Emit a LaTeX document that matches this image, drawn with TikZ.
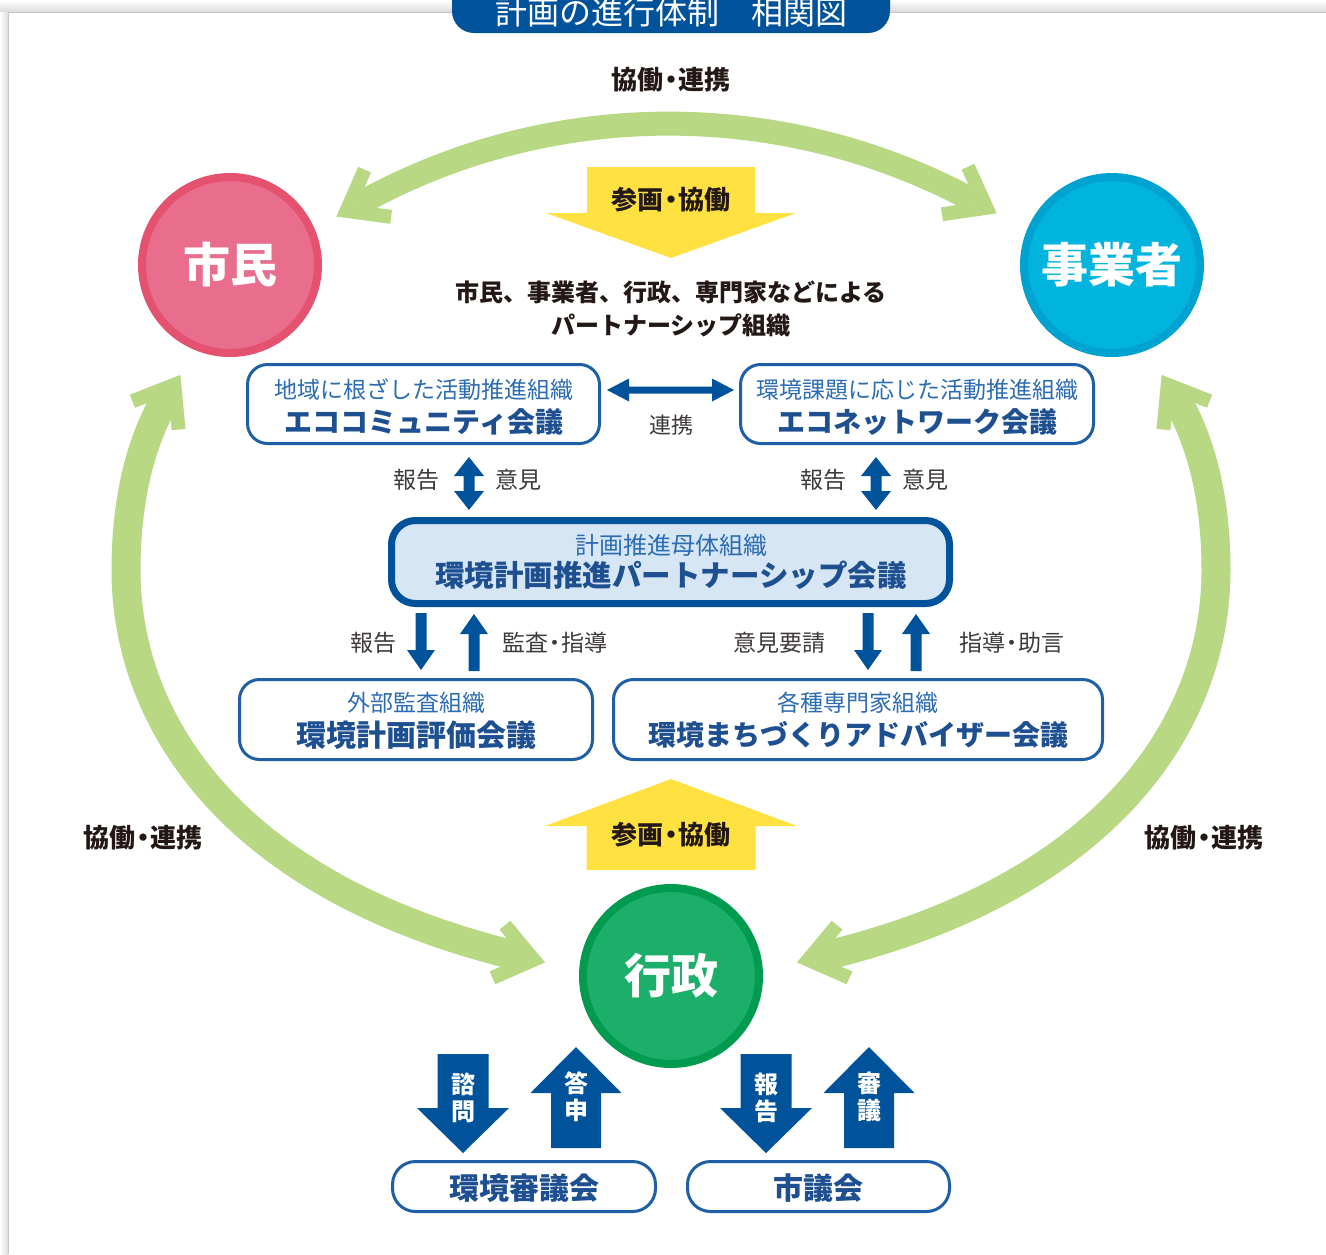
\documentclass[tikz,border=0pt]{standalone}
\usepackage{fontspec}
\setmainfont{Noto Sans CJK JP}
\usetikzlibrary{calc}
\definecolor{dblue}{HTML}{00529B}
\definecolor{boxline}{HTML}{1F5FA6}
\definecolor{subblue}{HTML}{2B6CB3}
\definecolor{boldblue}{HTML}{1D4F91}
\definecolor{lblgray}{HTML}{3E3A39}
\definecolor{darktxt}{HTML}{231815}
\definecolor{arcgreen}{HTML}{B8D883}
\definecolor{yel}{HTML}{FFE141}
\definecolor{pinkin}{HTML}{E96D8D}
\definecolor{pinkring}{HTML}{E4526F}
\definecolor{cyanin}{HTML}{00B4DE}
\definecolor{cyanring}{HTML}{00A2CF}
\definecolor{greenin}{HTML}{1BAF6A}
\definecolor{greenring}{HTML}{009B4F}
\definecolor{ptnfill}{HTML}{D6E6F5}
\newcommand\mydot{\kern-0.2em・\kern-0.2em}
\newcommand\singlearrow[6]{%
  \coordinate (hb) at ($(#2)!#5!(#1)$);
  \fill[#6] ($(#1)!#3!90:(#2)$) -- ($(hb)!#3!90:(#2)$) -- ($(hb)!#4!90:(#2)$) -- (#2)
    -- ($(hb)!#4!-90:(#2)$) -- ($(hb)!#3!-90:(#2)$) -- ($(#1)!#3!-90:(#2)$) -- cycle;}
\newcommand\doublearrow[6]{%
  \coordinate (ha) at ($(#1)!#5!(#2)$);
  \coordinate (hb) at ($(#2)!#5!(#1)$);
  \fill[#6] (#1) -- ($(ha)!#4!90:(#2)$) -- ($(ha)!#3!90:(#2)$) -- ($(hb)!#3!-90:(#1)$)
    -- ($(hb)!#4!-90:(#1)$) -- (#2) -- ($(hb)!#4!90:(#1)$) -- ($(hb)!#3!90:(#1)$)
    -- ($(ha)!#3!-90:(#2)$) -- ($(ha)!#4!-90:(#2)$) -- cycle;}
\newcommand\chevron[2]{%
  \coordinate (cc) at ($(#1)!-12pt!(#2)$);
  \draw[chev] ($(cc)!45pt!37:(#2)$) -- (cc) -- ($(cc)!45pt!-37:(#2)$);}
\begin{document}
\begin{tikzpicture}[x=1pt,y=-1pt,
  chev/.style={draw=arcgreen, line width=14pt, line cap=butt, line join=miter},
  arcline/.style={draw=arcgreen, line cap=butt},
  roundbox/.style={draw=boxline, line width=3pt, rounded corners=20pt, fill=white, inner sep=0},
  subtxt/.style={inner sep=0, text=subblue, font=\fontsize{23}{23}\selectfont},
  maintxt/.style={inner sep=0, text=boldblue, font=\fontsize{#1}{#1}\selectfont\bfseries},
  lbl/.style={inner sep=0, text=lblgray, font=\fontsize{23}{23}\selectfont},
  darklbl/.style={inner sep=0, text=darktxt, font=\fontsize{#1}{#1}\selectfont\bfseries},
  actor/.style={circle, inner sep=0, minimum size=176pt, line width=8pt, text=white,
    font=\fontsize{47}{47}\selectfont\bfseries},
  vlbl/.style={inner sep=0, text=white, align=center, font=\fontsize{24}{27}\selectfont\bfseries}
]
\useasboundingbox (0,0) rectangle (1326,1254);
% background panel
\shade[top color=white, bottom color=black!14] (0,0) rectangle (1326,12);
\shade[left color=white, right color=black!14] (0,12) rectangle (8,1254);
\fill[white] (8,12) rectangle (1326,1254);
\draw[black!22, line width=1pt] (8,1254) -- (8,12) -- (1326,12);
% title tab
\fill[dblue, rounded corners=22pt] (452,-30) rectangle (890,33);
\node[inner sep=0, text=white, font=\fontsize{32}{32}\selectfont] (title) at (671,12) {計画の進行体制　相関図};

% green arcs
\coordinate (T0) at (357,205); \coordinate (T1) at (549,97);
\coordinate (T2) at (784,97);  \coordinate (T3) at (976,202);
\coordinate (L0) at (168,395); \coordinate (La) at (136.7,446);
\coordinate (Lb) at (126,510); \coordinate (LM) at (126,570);
\coordinate (Lc) at (126,720); \coordinate (L2) at (230,888);
\coordinate (L3) at (522,957);
\coordinate (R0) at (1174,395); \coordinate (Ra) at (1205.3,446);
\coordinate (Rb) at (1216,510); \coordinate (RM) at (1216,570);
\coordinate (Rc) at (1216,720); \coordinate (R2) at (1112,888);
\coordinate (R3) at (820,957);
\draw[arcline, line width=24pt] (T0) .. controls (T1) and (T2) .. (T3);
\draw[arcline, line width=29pt] (L0) .. controls (La) and (Lb) .. (LM) .. controls (Lc) and (L2) .. (L3);
\draw[arcline, line width=29pt] (R0) .. controls (Ra) and (Rb) .. (RM) .. controls (Rc) and (R2) .. (R3);
\chevron{T0}{T1}\chevron{T3}{T2}
\chevron{L0}{La}\chevron{L3}{L2}
\chevron{R0}{Ra}\chevron{R3}{R2}
\node[darklbl=26] (kyo1) at (671,80) {協働\mydot 連携};
\node[darklbl=26] (kyo2) at (143,838) {協働\mydot 連携};
\node[darklbl=26] (kyo3) at (1204,838) {協働\mydot 連携};

% actors
\node[actor, fill=pinkin, draw=pinkring] (shimin) at (230,265) {市民};
\node[actor, fill=cyanin, draw=cyanring] (jigyo) at (1112,265) {事業者};
\node[actor, fill=greenin, draw=greenring] (gyosei) at (671,976) {行政};

% yellow arrows
\coordinate (y1a) at (671,167); \coordinate (y1b) at (671,258);
\singlearrow{y1a}{y1b}{84pt}{125pt}{45pt}{yel}
\node[darklbl=26] (sank1) at (671,200) {参画\mydot 協働};
\coordinate (y2a) at (671,870); \coordinate (y2b) at (671,779);
\singlearrow{y2a}{y2b}{84.5pt}{126pt}{47pt}{yel}
\node[darklbl=26] (sank2) at (671,835) {参画\mydot 協働};

\node[darklbl=24] (pt1) at (671,292) {市民、事業者、行政、専門家などによる};
\node[darklbl=24] (pt2) at (671,325) {パートナーシップ組織};

% upper boxes
\node[roundbox, minimum width=352pt, minimum height=79pt] (ecoc) at (423.5,404) {};
\node[subtxt] (ecoc1) at (424,390) {地域に根ざした活動推進組織};
\node[maintxt=28] (ecoc2) at (424,422) {エココミュニティ会議};
\node[roundbox, minimum width=353pt, minimum height=79pt] (econ) at (917,404) {};
\node[subtxt] (econ1) at (917,390) {環境課題に応じた活動推進組織};
\node[maintxt=28] (econ2) at (917,422) {エコネットワーク会議};
\coordinate (rka) at (607,390); \coordinate (rkb) at (734,390);
\doublearrow{rka}{rkb}{3.5pt}{11.5pt}{22pt}{dblue}
\node[lbl, font=\fontsize{22}{22}\selectfont] (renkei) at (671,425) {連携};

% vertical double arrows
\coordinate (v1a) at (469,457); \coordinate (v1b) at (469,510);
\doublearrow{v1a}{v1b}{5.5pt}{15pt}{19pt}{dblue}
\coordinate (v2a) at (876,457); \coordinate (v2b) at (876,510);
\doublearrow{v2a}{v2b}{5.5pt}{15pt}{19pt}{dblue}
\node[lbl] (l1) at (416,480) {報告};
\node[lbl] (l2) at (518,480) {意見};
\node[lbl] (l3) at (823,480) {報告};
\node[lbl] (l4) at (925,480) {意見};

% partnership box
\node[draw=dblue, line width=7pt, fill=ptnfill, rounded corners=24pt, inner sep=0,
  minimum width=558pt, minimum height=83pt] (ptn) at (670.5,562) {};
\node[subtxt, font=\fontsize{24}{24}\selectfont] (ptn1) at (671,545) {計画推進母体組織};
\node[maintxt=29.5] (ptn2) at (671,575) {環境計画推進パートナーシップ会議};

% single arrows
\coordinate (s1a) at (421,613); \coordinate (s1b) at (421,670);
\singlearrow{s1a}{s1b}{5.5pt}{14pt}{20pt}{dblue}
\coordinate (s2a) at (474,671); \coordinate (s2b) at (474,614);
\singlearrow{s2a}{s2b}{5.5pt}{14pt}{20pt}{dblue}
\coordinate (s3a) at (868,613); \coordinate (s3b) at (868,670);
\singlearrow{s3a}{s3b}{5.5pt}{14pt}{20pt}{dblue}
\coordinate (s4a) at (916,671); \coordinate (s4b) at (916,614);
\singlearrow{s4a}{s4b}{5.5pt}{14pt}{20pt}{dblue}
\node[lbl] (l5) at (373,643) {報告};
\node[lbl] (l6) at (555,643) {監査\mydot 指導};
\node[lbl] (l7) at (779,643) {意見要請};
\node[lbl] (l8) at (1012,643) {指導\mydot 助言};

% lower boxes
\node[roundbox, minimum width=353pt, minimum height=80pt] (eval) at (416,719.5) {};
\node[subtxt] (eval1) at (416,703) {外部監査組織};
\node[maintxt=30] (eval2) at (416,735) {環境計画評価会議};
\node[roundbox, minimum width=489pt, minimum height=80pt] (advs) at (858,719.5) {};
\node[subtxt] (advs1) at (858,703) {各種専門家組織};
\node[maintxt=28] (advs2) at (858,735) {環境まちづくりアドバイザー会議};

% bottom block arrows
\coordinate (b1a) at (463,1054); \coordinate (b1b) at (463,1153);
\singlearrow{b1a}{b1b}{25.5pt}{46pt}{45pt}{dblue}
\coordinate (b2a) at (576,1148); \coordinate (b2b) at (576,1047);
\singlearrow{b2a}{b2b}{25pt}{45.5pt}{46pt}{dblue}
\coordinate (b3a) at (766,1054); \coordinate (b3b) at (766,1153);
\singlearrow{b3a}{b3b}{25.5pt}{46pt}{45pt}{dblue}
\coordinate (b4a) at (869,1148); \coordinate (b4b) at (869,1047);
\singlearrow{b4a}{b4b}{25pt}{45.5pt}{46pt}{dblue}
\node[vlbl] (t1) at (463,1098) {諮\\問};
\node[vlbl] (t2) at (576,1097) {答\\申};
\node[vlbl] (t3) at (766,1098) {報\\告};
\node[vlbl] (t4) at (869,1097) {審\\議};

% bottom boxes
\node[roundbox, rounded corners=23pt, minimum width=263pt, minimum height=50pt] (kankyo) at (524,1186.5) {};
\node[maintxt=30] (kankyo1) at (524,1188) {環境審議会};
\node[roundbox, rounded corners=23pt, minimum width=262pt, minimum height=50pt] (shigi) at (818.5,1186.5) {};
\node[maintxt=30] (shigi1) at (818,1188) {市議会};
\end{tikzpicture}
\end{document}
